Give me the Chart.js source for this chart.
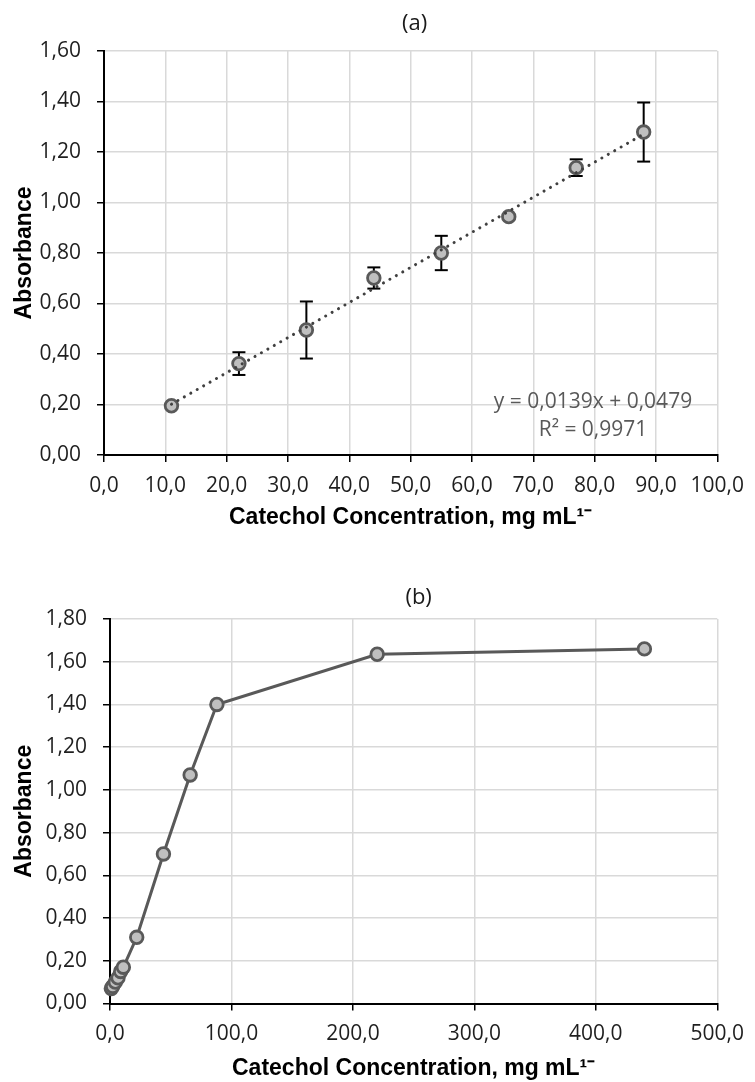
<!DOCTYPE html>
<html><head><meta charset="utf-8">
<script src="https://cdn.jsdelivr.net/npm/chart.js@4.4.1/dist/chart.umd.min.js"></script>
<style>
html,body{margin:0;padding:0;background:#fff;}
#wrapA{position:absolute;left:0;top:0;width:755px;height:545px;}
#wrapB{position:absolute;left:0;top:545px;width:755px;height:537px;}
</style></head><body>
<div id="wrapA"><canvas id="chartA" width="755" height="545"></canvas></div>
<div id="wrapB"><canvas id="chartB" width="755" height="537"></canvas></div>
<script>
// ---- data (a) ----
const concA = [11, 22, 33, 44, 55, 66, 77, 88];
const absA  = [0.195, 0.362, 0.495, 0.701, 0.800, 0.944, 1.138, 1.279];
const errA  = [0.008, 0.045, 0.113, 0.042, 0.068, 0.008, 0.033, 0.117];
const trendX = [11, 88];
const trendY = [0.201, 1.271];
const xTicksA = ['0,0','10,0','20,0','30,0','40,0','50,0','60,0','70,0','80,0','90,0','100,0'];
const yTicksA = ['0,00','0,20','0,40','0,60','0,80','1,00','1,20','1,40','1,60'];
// ---- data (b) ----
const concB = [1.1, 2.2, 4.4, 6.6, 8.8, 11, 22, 44, 66, 88, 220, 440];
const absB  = [0.07, 0.08, 0.10, 0.12, 0.15, 0.17, 0.31, 0.70, 1.07, 1.40, 1.635, 1.66];
const xTicksB = ['0,0','100,0','200,0','300,0','400,0','500,0'];
const yTicksB = ['0,00','0,20','0,40','0,60','0,80','1,00','1,20','1,40','1,60','1,80'];
// ---- texts ----
const titleA = '(a)';
const titleB = '(b)';
const xTitle = 'Catechol Concentration, mg mL¹⁻';
const yTitle = 'Absorbance';
const eqLines = ['y = 0,0139x + 0,0479', 'R² = 0,9971'];

Chart.defaults.font.family = "'Open Sans', sans-serif";
Chart.defaults.color = '#1f1f1f';

const panelText = {
  id: 'panelText',
  afterDraw(chart, args, opts) {
    const {ctx, chartArea} = chart;
    ctx.save();
    ctx.textAlign = 'center';
    ctx.textBaseline = 'middle';
    ctx.font = opts.titleFont;
    ctx.fillStyle = '#1a1a1a';
    ctx.fillText(opts.title, (chartArea.left + chartArea.right) / 2 + opts.titleDx, opts.titleY);
    if (opts.lines) {
      ctx.font = opts.linesFont;
      ctx.fillStyle = '#595959';
      opts.lines.forEach((t, i) => ctx.fillText(t, opts.linesX, opts.linesY + i * opts.linesGap));
    }
    ctx.restore();
  }
};

function axisTitle(text, pad) {
  return {display: true, text, color: '#000',
    font: {family: "'Liberation Sans', Arial, sans-serif", weight: 'bold', size: 23}, padding: pad};
}

const gridOpts = {color: '#d9d9d9', lineWidth: 1.5, tickColor: '#000', tickLength: 7, tickWidth: 1.5};
const borderOpts = {color: '#000', width: 2};
const tickFont = {size: 21};

// error-bar data built from arrays
const errData = [];
concA.forEach((x, i) => {
  errData.push({x, y: absA[i] - errA[i]});
  errData.push({x, y: absA[i] + errA[i]});
  errData.push({x, y: null});
});

new Chart(document.getElementById('chartA'), {
  type: 'scatter',
  data: {
    datasets: [
      {label: 'trend', data: trendX.map((x, i) => ({x, y: trendY[i]})), showLine: true,
       borderColor: '#404040', borderWidth: 3, borderDash: [0.1, 7.3], borderCapStyle: 'round',
       pointRadius: 0, order: 0, clip: false},
      {label: 'Absorbance', data: concA.map((x, i) => ({x, y: absA[i]})), showLine: false,
       pointRadius: 6.3, pointBackgroundColor: '#bfbfbf', pointBorderColor: '#595959', pointBorderWidth: 2.8,
       order: 1, clip: false},
      {label: 'err', data: errData, showLine: true, spanGaps: false, borderColor: '#000', borderWidth: 2,
       pointStyle: 'line', pointRadius: 6.5, pointBorderColor: '#000', pointBorderWidth: 2,
       order: 2, clip: false}
    ]
  },
  options: {
    responsive: false, animation: false,
    layout: {padding: {top: 51, right: 31, left: 0, bottom: 0}},
    plugins: {legend: {display: false}, tooltip: {enabled: false},
      panelText: {title: titleA, titleFont: "22px 'Open Sans', sans-serif", titleDx: 4, titleY: 24,
        lines: eqLines, linesFont: "21px 'Open Sans', sans-serif", linesX: 593, linesY: 402, linesGap: 28}},
    scales: {
      x: {type: 'linear', min: 0, max: 100,
        ticks: {stepSize: 10, font: tickFont, padding: 11, maxRotation: 0, autoSkip: false,
          callback: (v, i) => xTicksA[i]},
        grid: gridOpts, border: borderOpts,
        title: axisTitle(xTitle, {top: 0, bottom: 14}),
        afterFit: s => { s.height = 90; }},
      y: {min: 0, max: 1.6,
        ticks: {stepSize: 0.2, font: tickFont, padding: 16, autoSkip: false,
          callback: (v, i) => yTicksA[i]},
        grid: gridOpts, border: borderOpts,
        title: axisTitle(yTitle, {top: 11, bottom: 0}),
        afterFit: s => { s.width = 104; }}
    }
  },
  plugins: [panelText]
});

new Chart(document.getElementById('chartB'), {
  type: 'scatter',
  data: {
    datasets: [
      {label: 'Absorbance', data: concB.map((x, i) => ({x, y: absB[i]})), showLine: true,
       borderColor: '#595959', borderWidth: 3, tension: 0,
       pointRadius: 6.3, pointBackgroundColor: '#bfbfbf', pointBorderColor: '#595959', pointBorderWidth: 2.8,
       clip: false}
    ]
  },
  options: {
    responsive: false, animation: false,
    layout: {padding: {top: 74, right: 31, left: 0, bottom: 0}},
    plugins: {legend: {display: false}, tooltip: {enabled: false},
      panelText: {title: titleB, titleFont: "22px 'Open Sans', sans-serif", titleDx: 5, titleY: 53}},
    scales: {
      x: {type: 'linear', min: 0, max: 500,
        ticks: {stepSize: 100, font: tickFont, padding: 11, maxRotation: 0, autoSkip: false,
          callback: (v, i) => xTicksB[i]},
        grid: gridOpts, border: borderOpts,
        title: axisTitle(xTitle, {top: 0, bottom: 0}),
        afterFit: s => { s.height = 78.5; }},
      y: {min: 0, max: 1.8,
        ticks: {stepSize: 0.2, font: tickFont, padding: 16, autoSkip: false,
          callback: (v, i) => yTicksB[i]},
        grid: gridOpts, border: borderOpts,
        title: axisTitle(yTitle, {top: 11, bottom: 0}),
        afterFit: s => { s.width = 110; }}
    }
  },
  plugins: [panelText]
});
</script>
</body></html>
